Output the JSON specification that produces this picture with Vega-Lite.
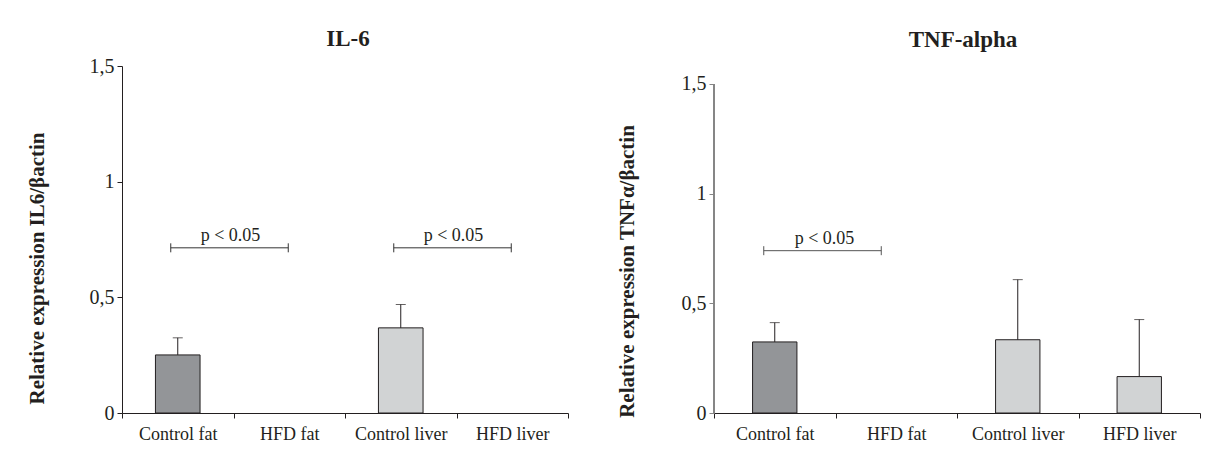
{
  "$schema": "https://vega.github.io/schema/vega-lite/v6.json",
  "padding": {"left": 26, "top": 28, "right": 0, "bottom": 0},
  "autosize": {"type": "pad"},
  "background": "white",
  "spacing": 47,
  "config": {
    "font": "Liberation Serif",
    "view": {"stroke": null},
    "axis": {"labelFont": "Liberation Serif", "titleFont": "Liberation Serif", "labelColor": "#231f20", "titleColor": "#231f20", "grid": false, "domainColor": "#231f20", "tickColor": "#231f20"},
    "title": {"font": "Liberation Serif", "fontSize": 23, "fontWeight": "bold", "color": "#231f20", "anchor": "middle", "frame": "group"}
  },
  "hconcat": [
    {
      "title": {"text": "IL-6", "offset": 5, "dx": 3},
      "width": 446,
      "height": 347,
      "layer": [
        {
          "data": {"values": [
            {"group": "Control fat", "tissue": "fat", "value": 0.251, "upper": 0.325},
            {"group": "Control liver", "tissue": "liver", "value": 0.368, "upper": 0.469}
          ]},
          "layer": [
            {
              "mark": {"type": "bar", "width": {"band": 0.4}, "stroke": "#231f20", "strokeWidth": 1},
              "encoding": {
                "x": {"field": "group", "type": "nominal", "title": null,
                  "scale": {"domain": ["Control fat", "HFD fat", "Control liver", "HFD liver"], "paddingInner": 0, "paddingOuter": 0},
                  "axis": {"labelAngle": 0, "labelFontSize": 18, "tickBand": "extent", "tickSize": 5, "labelPadding": 7}},
                "y": {"field": "value", "type": "quantitative",
                  "scale": {"domain": [0, 1.5], "nice": false},
                  "axis": {"values": [0, 0.5, 1, 1.5], "format": "~g", "labelExpr": "replace(datum.label, '.', ',')", "labelFontSize": 20, "tickSize": 5, "labelPadding": 3, "title": "Relative expression IL6/βactin", "titleFontSize": 21, "titleFontWeight": "bold", "titlePadding": 42, "titleY": 202}},
                "color": {"field": "tissue", "type": "nominal", "scale": {"domain": ["fat", "liver"], "range": ["#939598", "#d1d3d4"]}, "legend": null}
              }
            },
            {
              "mark": {"type": "rule", "color": "#231f20", "strokeWidth": 1},
              "encoding": {
                "x": {"field": "group", "type": "nominal"},
                "y": {"field": "value", "type": "quantitative"},
                "y2": {"field": "upper"}
              }
            },
            {
              "mark": {"type": "tick", "size": 10, "thickness": 1, "color": "#231f20"},
              "encoding": {
                "x": {"field": "group", "type": "nominal"},
                "y": {"field": "upper", "type": "quantitative"}
              }
            }
          ]
        },
        {
          "data": {"values": [
            {"from": "Control fat", "to": "HFD fat", "y": 0.714, "label": "p < 0.05"},
            {"from": "Control liver", "to": "HFD liver", "y": 0.714, "label": "p < 0.05"}
          ]},
          "layer": [
            {
              "mark": {"type": "rule", "color": "#333333", "strokeWidth": 1, "xOffset": -7, "x2Offset": -1},
              "encoding": {
                "x": {"field": "from", "type": "nominal"},
                "x2": {"field": "to"},
                "y": {"field": "y", "type": "quantitative"}
              }
            },
            {
              "mark": {"type": "point", "shape": "M0,-1L0,1", "size": 81, "filled": false, "color": "#333333", "strokeWidth": 1, "opacity": 1, "xOffset": -7},
              "encoding": {
                "x": {"field": "from", "type": "nominal"},
                "y": {"field": "y", "type": "quantitative"}
              }
            },
            {
              "mark": {"type": "point", "shape": "M0,-1L0,1", "size": 81, "filled": false, "color": "#333333", "strokeWidth": 1, "opacity": 1, "xOffset": -1},
              "encoding": {
                "x": {"field": "to", "type": "nominal"},
                "y": {"field": "y", "type": "quantitative"}
              }
            },
            {
              "mark": {"type": "text", "fontSize": 18, "color": "#231f20", "baseline": "alphabetic", "dy": -7, "dx": -3},
              "encoding": {
                "x": {"field": "from", "type": "nominal", "bandPosition": 1},
                "y": {"field": "y", "type": "quantitative"},
                "text": {"field": "label"}
              }
            }
          ]
        }
      ]
    },
    {
      "title": {"text": "TNF-alpha", "offset": 14, "dx": 6},
      "width": 486,
      "height": 347,
      "layer": [
        {
          "data": {"values": [
            {"group": "Control fat", "tissue": "fat", "value": 0.324, "upper": 0.412},
            {"group": "Control liver", "tissue": "liver", "value": 0.334, "upper": 0.608},
            {"group": "HFD liver", "tissue": "liver", "value": 0.166, "upper": 0.426}
          ]},
          "layer": [
            {
              "mark": {"type": "bar", "width": {"band": 0.365}, "stroke": "#231f20", "strokeWidth": 1},
              "encoding": {
                "x": {"field": "group", "type": "nominal", "title": null,
                  "scale": {"domain": ["Control fat", "HFD fat", "Control liver", "HFD liver"], "paddingInner": 0, "paddingOuter": 0},
                  "axis": {"labelAngle": 0, "labelFontSize": 18, "tickBand": "extent", "tickSize": 5, "labelPadding": 7}},
                "y": {"field": "value", "type": "quantitative",
                  "scale": {"domain": [0, 1.582], "nice": false},
                  "axis": {"values": [0, 0.5, 1, 1.5], "format": "~g", "labelExpr": "replace(datum.label, '.', ',')", "labelFontSize": 20, "tickSize": 5, "labelPadding": 3, "domain": false, "tickColor": "#858585", "title": "Relative expression TNFα/βactin", "titleFontSize": 21, "titleFontWeight": "bold", "titlePadding": 44, "titleY": 205}},
                "color": {"field": "tissue", "type": "nominal", "scale": {"domain": ["fat", "liver"], "range": ["#939598", "#d1d3d4"]}, "legend": null}
              }
            },
            {
              "mark": {"type": "rule", "color": "#231f20", "strokeWidth": 1},
              "encoding": {
                "x": {"field": "group", "type": "nominal"},
                "y": {"field": "value", "type": "quantitative"},
                "y2": {"field": "upper"}
              }
            },
            {
              "mark": {"type": "tick", "size": 10, "thickness": 1, "color": "#231f20"},
              "encoding": {
                "x": {"field": "group", "type": "nominal"},
                "y": {"field": "upper", "type": "quantitative"}
              }
            },
            {
              "mark": {"type": "rule", "color": "#858585", "strokeWidth": 1.5},
              "encoding": {
                "x": {"datum": "Control fat", "bandPosition": 0},
                "y": {"datum": 0},
                "y2": {"datum": 1.5}
              }
            }
          ]
        },
        {
          "data": {"values": [
            {"from": "Control fat", "to": "HFD fat", "y": 0.74, "label": "p < 0.05"}
          ]},
          "layer": [
            {
              "mark": {"type": "rule", "color": "#555555", "strokeWidth": 1, "xOffset": -11, "x2Offset": -15},
              "encoding": {
                "x": {"field": "from", "type": "nominal"},
                "x2": {"field": "to"},
                "y": {"field": "y", "type": "quantitative"}
              }
            },
            {
              "mark": {"type": "point", "shape": "M0,-1L0,1", "size": 81, "filled": false, "color": "#555555", "strokeWidth": 1, "opacity": 1, "xOffset": -11},
              "encoding": {
                "x": {"field": "from", "type": "nominal"},
                "y": {"field": "y", "type": "quantitative"}
              }
            },
            {
              "mark": {"type": "point", "shape": "M0,-1L0,1", "size": 81, "filled": false, "color": "#555555", "strokeWidth": 1, "opacity": 1, "xOffset": -15},
              "encoding": {
                "x": {"field": "to", "type": "nominal"},
                "y": {"field": "y", "type": "quantitative"}
              }
            },
            {
              "mark": {"type": "text", "fontSize": 18, "color": "#231f20", "baseline": "alphabetic", "dy": -7, "dx": -11},
              "encoding": {
                "x": {"field": "from", "type": "nominal", "bandPosition": 1},
                "y": {"field": "y", "type": "quantitative"},
                "text": {"field": "label"}
              }
            }
          ]
        }
      ]
    }
  ]
}
